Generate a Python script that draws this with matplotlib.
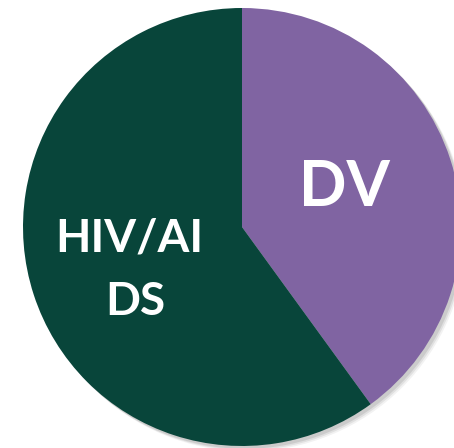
import matplotlib.pyplot as plt
from matplotlib.patches import Circle

labels = ["DV", "HIV/AI", "DS"]
shares = [40, 60]
colors = ["#8064A2", "#08453A"]

fig = plt.figure(figsize=(4.54, 4.48), dpi=100)
ax = fig.add_axes([0, 0, 1, 1])

# soft shadow behind the pie
for i, a in enumerate([0.05, 0.07, 0.09]):
    off = 0.025 - i * 0.006
    ax.add_patch(Circle((off, -off), 1.0, color="black", alpha=a, lw=0, zorder=0))

wedges, _ = ax.pie(shares, colors=colors, startangle=90, counterclock=False,
                   radius=1.0, center=(0, 0), frame=True,
                   wedgeprops=dict(linewidth=0))

ax.text(0.470, 0.096, labels[0], color="white", fontsize=45, fontweight="bold",
        family="Lato", ha="center", va="baseline")
ax.text(-0.516, -0.114, labels[1], color="white", fontsize=33, fontweight="bold",
        family="Lato", ha="center", va="baseline")
ax.text(-0.489, -0.402, labels[2], color="white", fontsize=33, fontweight="bold",
        family="Lato", ha="center", va="baseline")

ax.set_xlim(-242 / 219, 212 / 219)
ax.set_ylim(-221 / 219, 227 / 219)
ax.set_aspect("equal")
ax.axis("off")

fig.savefig("out.png", dpi=100)
